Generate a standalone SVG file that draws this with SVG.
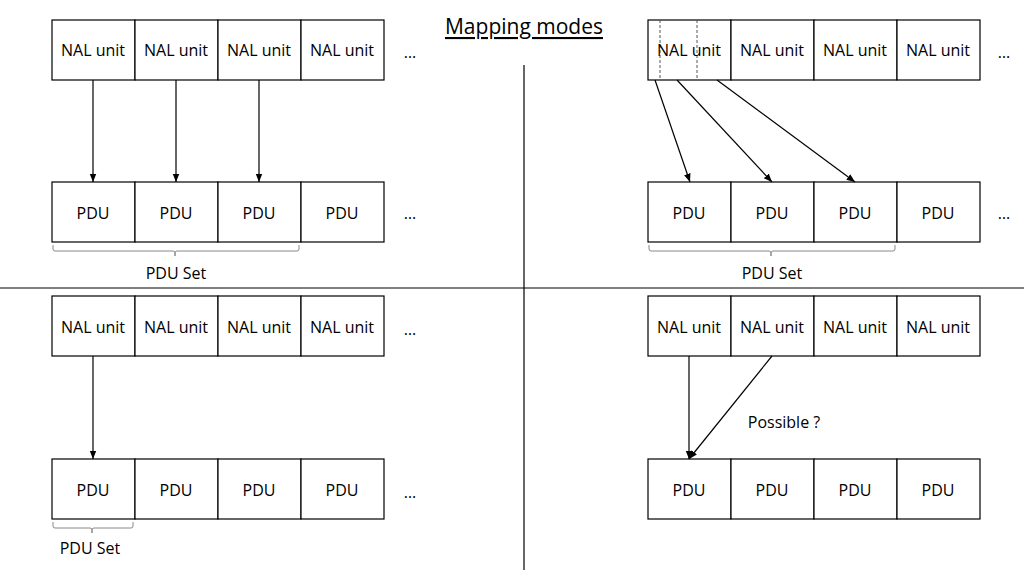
<svg xmlns="http://www.w3.org/2000/svg" width="1024" height="576" viewBox="0 0 1024 576">
<defs>
<style>
rect{fill:#fff;stroke:#000;stroke-width:1.2}
text{font-family:"Open Sans","Liberation Sans",sans-serif;font-size:16px;text-anchor:middle;dominant-baseline:central;fill:#000}
.c line{stroke:#000;stroke-width:1.2}
.a{marker-end:url(#ah)}
.b{fill:none;stroke:#888;stroke-width:1}
</style>
<marker id="ah" viewBox="0 0 10 10" refX="10" refY="5" markerWidth="7" markerHeight="7" orient="auto-start-reverse"><path d="M0,1 L10,5 L0,9 z" fill="#000"/></marker>
</defs>
<text x="524" y="26" style="font-size:21px;text-decoration:underline">Mapping modes</text>
<g id="dividers" class="c"><line x1="0" y1="288" x2="1024" y2="288" stroke-width="2"/><line x1="524" y1="65" x2="524" y2="570" stroke-width="2"/></g>
<g id="tl-nal"><rect x="52" y="20" width="83" height="60"/><rect x="135" y="20" width="83" height="60"/><rect x="218" y="20" width="83" height="60"/><rect x="301" y="20" width="83" height="60"/>
<text x="93" y="50">NAL unit</text><text x="176" y="50">NAL unit</text><text x="259" y="50">NAL unit</text><text x="342" y="50">NAL unit</text><text x="410" y="52">…</text></g>
<g id="tl-pdu"><rect x="52" y="182" width="83" height="60"/><rect x="135" y="182" width="83" height="60"/><rect x="218" y="182" width="83" height="60"/><rect x="301" y="182" width="83" height="60"/>
<text x="93" y="213">PDU</text><text x="176" y="213">PDU</text><text x="259" y="213">PDU</text><text x="342" y="213">PDU</text><text x="410" y="213">…</text>
<path class="b" d="M53,245 v4 q0,2 2,2 h118 q2,0 2,2 v3 v-3 q0,-2 2,-2 h120 q2,0 2,-2 v-4"/><text x="176" y="273">PDU Set</text></g>
<g id="tr-nal"><rect x="648" y="20" width="83" height="60"/><rect x="731" y="20" width="83" height="60"/><rect x="814" y="20" width="83" height="60"/><rect x="897" y="20" width="83" height="60"/>
<line x1="660" y1="20" x2="660" y2="80" stroke="#555" stroke-dasharray="3,2"/><line x1="697" y1="20" x2="697" y2="80" stroke="#555" stroke-dasharray="3,2"/>
<text x="689" y="50">NAL unit</text><text x="772" y="50">NAL unit</text><text x="855" y="50">NAL unit</text><text x="938" y="50">NAL unit</text><text x="1004" y="52">…</text></g>
<g id="tr-pdu"><rect x="648" y="182" width="83" height="60"/><rect x="731" y="182" width="83" height="60"/><rect x="814" y="182" width="83" height="60"/><rect x="897" y="182" width="83" height="60"/>
<text x="689" y="213">PDU</text><text x="772" y="213">PDU</text><text x="855" y="213">PDU</text><text x="938" y="213">PDU</text><text x="1004" y="213">…</text>
<path class="b" d="M649,245 v4 q0,2 2,2 h118 q2,0 2,2 v3 v-3 q0,-2 2,-2 h120 q2,0 2,-2 v-4"/><text x="772" y="273">PDU Set</text></g>
<g id="bl-nal"><rect x="52" y="296" width="83" height="60"/><rect x="135" y="296" width="83" height="60"/><rect x="218" y="296" width="83" height="60"/><rect x="301" y="296" width="83" height="60"/>
<text x="93" y="327">NAL unit</text><text x="176" y="327">NAL unit</text><text x="259" y="327">NAL unit</text><text x="342" y="327">NAL unit</text><text x="410" y="329">…</text></g>
<g id="bl-pdu"><rect x="52" y="459" width="83" height="60"/><rect x="135" y="459" width="83" height="60"/><rect x="218" y="459" width="83" height="60"/><rect x="301" y="459" width="83" height="60"/>
<text x="93" y="490">PDU</text><text x="176" y="490">PDU</text><text x="259" y="490">PDU</text><text x="342" y="490">PDU</text><text x="410" y="492">…</text>
<path class="b" d="M53,522 v4 q0,2 2,2 h35 q2,0 2,2 v3 v-3 q0,-2 2,-2 h37 q2,0 2,-2 v-4"/><text x="90" y="548">PDU Set</text></g>
<g id="br-nal"><rect x="648" y="296" width="83" height="60"/><rect x="731" y="296" width="83" height="60"/><rect x="814" y="296" width="83" height="60"/><rect x="897" y="296" width="83" height="60"/>
<text x="689" y="327">NAL unit</text><text x="772" y="327">NAL unit</text><text x="855" y="327">NAL unit</text><text x="938" y="327">NAL unit</text></g>
<g id="br-pdu"><rect x="648" y="459" width="83" height="60"/><rect x="731" y="459" width="83" height="60"/><rect x="814" y="459" width="83" height="60"/><rect x="897" y="459" width="83" height="60"/>
<text x="689" y="490">PDU</text><text x="772" y="490">PDU</text><text x="855" y="490">PDU</text><text x="938" y="490">PDU</text>
<text x="784" y="422">Possible ?</text></g>
<g id="connectors" class="c">
<line class="a" x1="93" y1="80" x2="93" y2="182"/><line class="a" x1="176" y1="80" x2="176" y2="182"/><line class="a" x1="259" y1="80" x2="259" y2="182"/>
<line class="a" x1="655" y1="80" x2="690" y2="182"/><line class="a" x1="677" y1="80" x2="772" y2="182"/><line class="a" x1="717" y1="80" x2="855" y2="182"/>
<line class="a" x1="93" y1="356" x2="93" y2="459"/>
<line class="a" x1="689" y1="356" x2="689" y2="459"/><line class="a" x1="772" y1="356" x2="689" y2="459"/>
</g>
</svg>
